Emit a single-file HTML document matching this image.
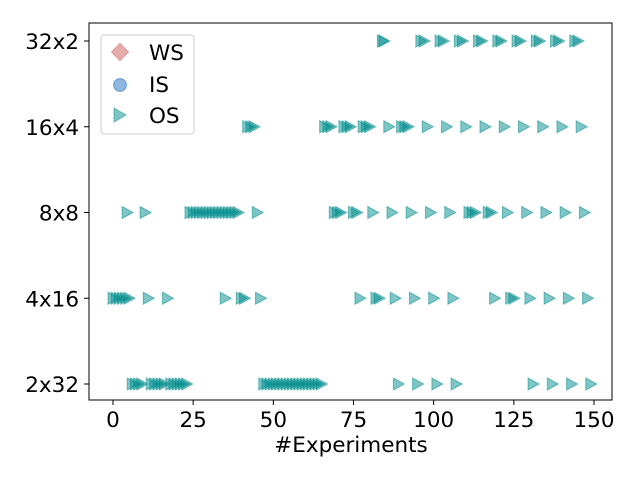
<!DOCTYPE html>
<html><head><meta charset="utf-8"><style>
body{margin:0;background:#fff}
svg text{font-family:"DejaVu Sans","Liberation Sans",sans-serif;fill:#000}
</style></head><body>
<svg id="chart" width="640" height="480" viewBox="0 0 640 480" xmlns="http://www.w3.org/2000/svg">
<rect width="640" height="480" fill="#fff"/>
<g id="marks"></g>
<rect x="89" y="23" width="523" height="377" fill="none" stroke="#000" stroke-width="1"/>
<g id="xaxis"></g>
<g id="yaxis"></g>
<text x="351" y="452" font-size="21.5" text-anchor="middle">#Experiments</text>
<g>
<rect x="101" y="35" width="93" height="99" rx="3" fill="#fff" fill-opacity="0.8" stroke="#ccc"/>
<g>
<rect x="114" y="46" width="12" height="12" transform="rotate(45 120 52)" fill="rgba(205,92,92,0.5)" stroke="rgba(205,92,92,0.5)"/>
<text x="149" y="60" font-size="21.5">WS</text></g>
<g>
<circle cx="120" cy="85" r="6.5" fill="rgba(30,110,190,0.5)" stroke="rgba(30,110,190,0.5)"/>
<text x="149" y="92" font-size="21.5">IS</text></g>
<g>
<path d="M114,108 L126,115 L114,122 Z" fill="rgba(0,139,139,0.5)" stroke="rgba(0,139,139,0.5)"/>
<text x="149" y="123" font-size="21.5">OS</text></g>
</g>
</svg>
<script>
const categories = ["2x32","4x16","8x8","16x4","32x2"];
const xTicks = [0,25,50,75,100,125,150];
const os_2x32 = [6,7,8,9,12,13,14,15,16,18,19,20,21,22,23,47,48,49,50,51,52,53,54,55,56,57,58,59,60,61,62,63,64,65,89,95,101,107,131,137,143,149];
const os_4x16 = [0,1,2,3,4,5,11,17,35,40,41,46,77,82,83,88,94,100,106,119,124,125,130,136,142,148];
const os_8x8 = [4.4,10,24,25,26,27,28,29,30,31,32,33,34,35,36,37,38,39,45,69,70,71,75,76,81,87,93,99,105,111,112,113,117,118,123,129,135,141,147];
const os_16x4 = [42,43,44,66,67,68,72,73,74,78,79,80,86,90,91,92,98,104,110,116,122,128,134,140,146];
const os_32x2 = [84,84.5,96,97,102,103,108,109,114,115,120,121,126,127,132,133,138,139,144,145];
const seriesByCat = [os_2x32, os_4x16, os_8x8, os_16x4, os_32x2];

const NS = "http://www.w3.org/2000/svg";
const xScale = v => 113 + v * (481/150);
const yScale = i => 384 - i * 85.75;

const marks = document.getElementById('marks');
seriesByCat.forEach((arr, ci) => {
  arr.forEach(v => {
    const cx = xScale(v), cy = yScale(ci);
    const p = document.createElementNS(NS, 'path');
    p.setAttribute('d', `M${cx-5},${cy-6} L${cx+6},${cy} L${cx-5},${cy+6} Z`);
    p.setAttribute('fill', 'rgba(0,139,139,0.5)');
    p.setAttribute('stroke', 'rgba(0,139,139,0.5)');
    
    
    marks.appendChild(p);
  });
});

const xa = document.getElementById('xaxis');
xTicks.forEach(t => {
  const x = xScale(t);
  const l = document.createElementNS(NS, 'line');
  l.setAttribute('x1', x); l.setAttribute('x2', x);
  l.setAttribute('y1', 400); l.setAttribute('y2', 405);
  l.setAttribute('stroke', '#000');
  
  
  xa.appendChild(l);
  const tx = document.createElementNS(NS, 'text');
  tx.setAttribute('x', x); tx.setAttribute('y', 427);
  tx.setAttribute('font-size', '21.5'); tx.setAttribute('text-anchor', 'middle');
  tx.textContent = t;
  
  
  xa.appendChild(tx);
});

const ya = document.getElementById('yaxis');
categories.forEach((c, i) => {
  const y = yScale(i);
  const l = document.createElementNS(NS, 'line');
  l.setAttribute('x1', 84); l.setAttribute('x2', 89);
  l.setAttribute('y1', y); l.setAttribute('y2', y);
  l.setAttribute('stroke', '#000');
  
  
  ya.appendChild(l);
  const tx = document.createElementNS(NS, 'text');
  tx.setAttribute('x', 79); tx.setAttribute('y', y + 8);
  tx.setAttribute('font-size', '21.5'); tx.setAttribute('text-anchor', 'end');
  tx.textContent = c;
  
  
  ya.appendChild(tx);
});
</script>
</body></html>
